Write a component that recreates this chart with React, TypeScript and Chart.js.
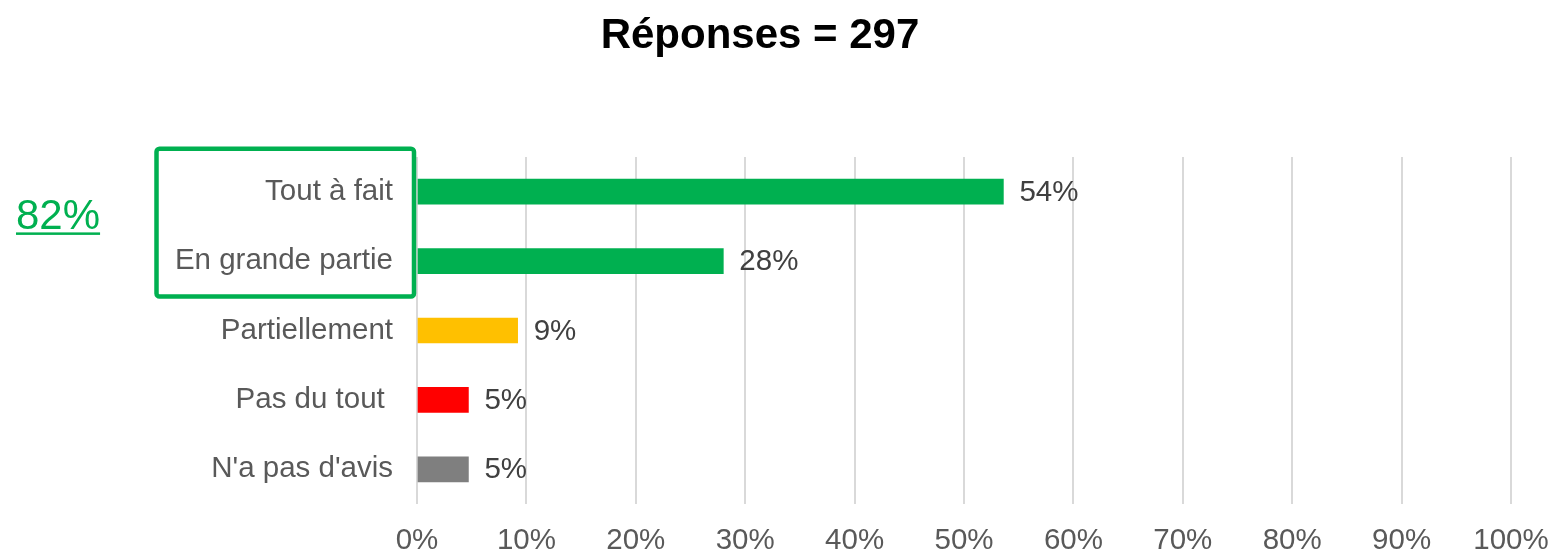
import React, { useEffect, useRef } from "react";
import { Chart, registerables } from "chart.js";

Chart.register(...registerables);

const TITLE = "Réponses = 297";
const CATEGORIES = ["Tout à fait", "En grande partie", "Partiellement", "Pas du tout ", "N'a pas d'avis"];
const VALUES = [53.6, 28.0, 9.2, 4.7, 4.7];
const COLORS = ["#00B050", "#00B050", "#FFC000", "#FF0000", "#7F7F7F"];
const X_MIN = 0;
const X_MAX = 100;
const X_STEP = 10;
const HIGHLIGHT_COUNT = 2;

const FONT = "'Liberation Sans', Arial, Helvetica, sans-serif";
const GREEN = "#00B050";

const overlayPlugin = {
  id: "overlay",
  afterDatasetsDraw(chart: any) {
    const ctx = chart.ctx as CanvasRenderingContext2D;
    const meta = chart.getDatasetMeta(0);
    const area = chart.chartArea;
    ctx.save();

    // value labels
    ctx.font = `29.5px ${FONT}`;
    ctx.fillStyle = "#404040";
    ctx.textAlign = "left";
    ctx.textBaseline = "middle";
    meta.data.forEach((bar: any, i: number) => {
      ctx.fillText(Math.round(VALUES[i]) + "%", bar.x + 16, bar.y + 1);
    });

    // title
    ctx.font = `bold 42px ${FONT}`;
    ctx.fillStyle = "#000000";
    ctx.textAlign = "center";
    ctx.textBaseline = "alphabetic";
    ctx.fillText(TITLE, 760, 48);

    // highlight box around the top categories
    const first = meta.data[0];
    const last = meta.data[HIGHLIGHT_COUNT - 1];
    const bx0 = area.left - 260.5;
    const bx1 = area.left - 3;
    const by0 = first.y - 43;
    const by1 = last.y + 35.5;
    ctx.strokeStyle = GREEN;
    ctx.lineWidth = 4.5;
    ctx.beginPath();
    (ctx as any).roundRect(bx0, by0, bx1 - bx0, by1 - by0, 3);
    ctx.stroke();

    // summed percentage
    let sum = 0;
    for (let i = 0; i < HIGHLIGHT_COUNT; i++) sum += Math.round(VALUES[i]);
    const txt = sum + "%";
    ctx.font = `42px ${FONT}`;
    ctx.fillStyle = GREEN;
    ctx.textAlign = "left";
    ctx.textBaseline = "alphabetic";
    const tx = 16;
    const ty = (first.y + last.y) / 2 + 2.5;
    ctx.fillText(txt, tx, ty);
    const w = ctx.measureText(txt).width;
    ctx.fillRect(tx, ty + 3.5, w, 2.5);

    ctx.restore();
  },
};

export default function App() {
  const ref = useRef<HTMLCanvasElement | null>(null);

  useEffect(() => {
    document.body.style.margin = "0";
    const canvas = ref.current;
    if (!canvas) return;
    const chart = new Chart(canvas, {
      type: "bar",
      data: {
        labels: CATEGORIES,
        datasets: [
          {
            data: VALUES,
            backgroundColor: COLORS,
            borderWidth: 0,
            barThickness: 25,
          },
        ],
      },
      options: {
        indexAxis: "y",
        responsive: false,
        animation: false,
        layout: { padding: { top: 157, right: 43, left: 0, bottom: 0 } },
        plugins: {
          legend: { display: false },
          title: { display: false },
          tooltip: { enabled: false },
        },
        scales: {
          x: {
            min: X_MIN,
            max: X_MAX,
            border: { display: false },
            grid: { color: "#D9D9D9", lineWidth: 2, drawTicks: false },
            ticks: {
              stepSize: X_STEP,
              padding: 19,
              color: "#595959",
              font: { family: FONT, size: 29.5 },
              callback: (v: any) => v + "%",
            },
            afterFit: (scale: any) => {
              scale.height = 48;
              scale.paddingLeft = 0;
              scale.paddingRight = 0;
            },
          },
          y: {
            border: { display: false },
            grid: { display: false, drawTicks: false },
            ticks: {
              padding: 24,
              color: "#595959",
              font: { family: FONT, size: 29.5 },
            },
            afterFit: (scale: any) => {
              scale.width = 417;
              scale.paddingTop = 0;
              scale.paddingBottom = 0;
            },
          },
        },
      },
      plugins: [overlayPlugin],
    });
    return () => chart.destroy();
  }, []);

  return (
    <div style={{ position: "absolute", left: 0, top: 0, width: 1554, height: 552, background: "#fff" }}>
      <canvas ref={ref} width={1554} height={552} />
    </div>
  );
}
